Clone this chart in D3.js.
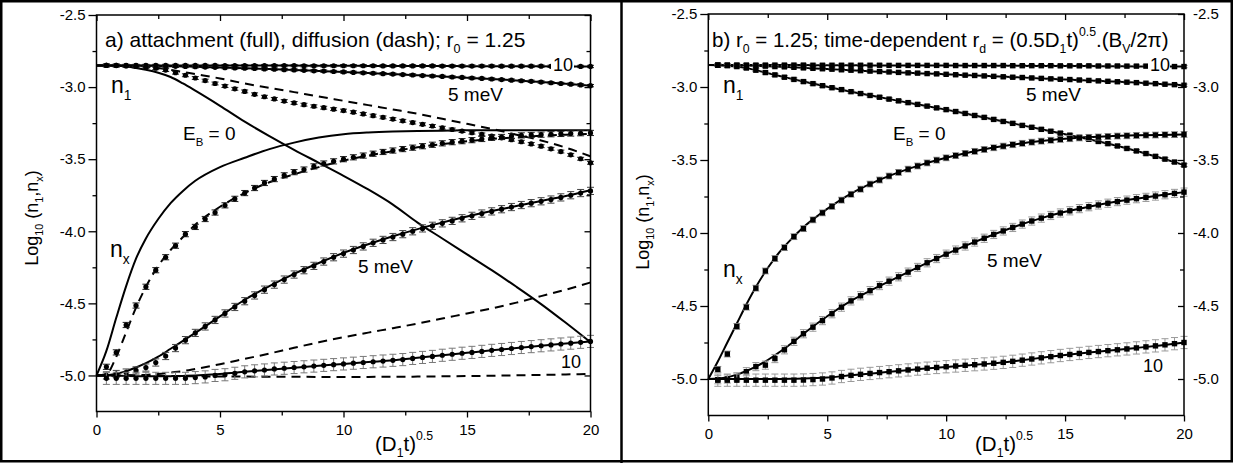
<!DOCTYPE html>
<html>
<head>
<meta charset="utf-8">
<title>n1, nx vs (D1t)^0.5</title>
<style>
  body { margin: 0; background: #fff; }
  svg text { font-family: Arial, "Liberation Sans", sans-serif; fill: #000; }
  .frame { fill: none; stroke: #000; stroke-width: 1.5px; }
  .axis path { display: none; }
  .axis line { stroke: #000; stroke-width: 1.3px; }
  .axis text { font-size: 15px; font-family: Arial, "Liberation Sans", sans-serif; }
  .full { fill: none; stroke: #000; stroke-width: 2px; }
  .dash { fill: none; stroke: #000; stroke-width: 2px; stroke-dasharray: 9,6; }
</style>
</head>
<body>
<svg width="1233" height="463"></svg>
<script src="https://d3js.org/d3.v7.min.js"></script>
<script>

// ---- data ----
var xTicks = [0, 5, 10, 15, 20];
var xMinor = [2.5, 7.5, 12.5, 17.5];
var yTicks = [-2.5, -3.0, -3.5, -4.0, -4.5, -5.0];
var yMinor = [-2.75, -3.25, -3.75, -4.25, -4.75];

// x of the theory curves
var lineX = [0,0.4,0.8,1.2,1.6,2,2.5,3,3.5,4,5,6,7,8,9,10,11,12,13,14,15,16,17,18,19,20];
// x of the simulation points
var ptX = [0.4,0.8,1.2,1.6,2.0,2.4,2.8,3.2,3.6,4.0,4.4,4.8,5.2,5.6,6.0,6.4,6.8,7.2,7.6,8.0,
           8.4,8.8,9.2,9.6,10.0,10.4,10.8,11.2,11.6,12.0,12.4,12.8,13.2,13.6,14.0,14.4,14.8,15.2,15.6,16.0,
           16.4,16.8,17.2,17.6,18.0,18.4,18.8,19.2,19.6,20.0];

// panel a: curves (full = attachment, d = diffusion)
var aL_n1_10 = [-2.85,-2.85,-2.85,-2.85,-2.85,-2.85,-2.85,-2.85,-2.85,-2.85,-2.85,-2.851,-2.851,-2.851,-2.852,-2.852,-2.853,-2.853,-2.854,-2.854,-2.855,-2.855,-2.856,-2.856,-2.857,-2.857];
var aL_n1_5 = [-2.85,-2.85,-2.85,-2.851,-2.851,-2.852,-2.853,-2.855,-2.857,-2.859,-2.864,-2.869,-2.875,-2.881,-2.888,-2.895,-2.902,-2.91,-2.918,-2.926,-2.935,-2.944,-2.954,-2.965,-2.977,-2.99];
var aL_n1_0 = [-2.85,-2.85,-2.852,-2.858,-2.868,-2.88,-2.9,-2.93,-2.975,-3.025,-3.13,-3.24,-3.34,-3.435,-3.525,-3.615,-3.71,-3.815,-3.94,-4.05,-4.16,-4.27,-4.385,-4.505,-4.635,-4.77];
var aL_n1_0d = [-2.85,-2.85,-2.85,-2.85,-2.852,-2.858,-2.868,-2.88,-2.895,-2.91,-2.94,-2.975,-3.005,-3.035,-3.065,-3.095,-3.125,-3.155,-3.185,-3.22,-3.255,-3.29,-3.33,-3.37,-3.42,-3.48];
var aL_nx0 = [-5.0,-4.83,-4.6,-4.38,-4.19,-4.05,-3.915,-3.805,-3.72,-3.65,-3.555,-3.49,-3.43,-3.385,-3.35,-3.327,-3.315,-3.308,-3.304,-3.302,-3.30,-3.30,-3.30,-3.30,-3.30,-3.30];
var aL_nx0d = [-5.0,-4.99,-4.87,-4.70,-4.53,-4.385,-4.24,-4.13,-4.04,-3.955,-3.83,-3.735,-3.66,-3.605,-3.555,-3.51,-3.475,-3.445,-3.418,-3.395,-3.376,-3.36,-3.348,-3.338,-3.33,-3.324];
var aL_nx5 = [-5.0,-4.998,-4.988,-4.97,-4.945,-4.915,-4.87,-4.815,-4.76,-4.705,-4.59,-4.475,-4.38,-4.295,-4.22,-4.15,-4.09,-4.035,-3.985,-3.94,-3.898,-3.86,-3.825,-3.79,-3.755,-3.715];
var aL_nx5d = [-5.0,-5.0,-5.0,-4.999,-4.998,-4.996,-4.99,-4.98,-4.97,-4.955,-4.922,-4.885,-4.848,-4.808,-4.77,-4.735,-4.703,-4.672,-4.64,-4.605,-4.57,-4.535,-4.495,-4.45,-4.405,-4.355];
var aL_nx10 = [-5.0,-5.0,-5.002,-5.004,-5.005,-5.006,-5.006,-5.005,-5.003,-5.0,-4.99,-4.975,-4.96,-4.946,-4.933,-4.92,-4.907,-4.895,-4.878,-4.86,-4.843,-4.826,-4.81,-4.794,-4.779,-4.764];
var aL_nx10d = [-5.0,-5.0,-5.0,-5.0,-5.001,-5.002,-5.003,-5.004,-5.005,-5.006,-5.007,-5.008,-5.009,-5.009,-5.01,-5.01,-5.01,-5.009,-5.008,-5.006,-5.004,-5.002,-4.999,-4.996,-4.993,-4.99];

// panel a: simulation points
var aP_n1_10 = [-2.85,-2.85,-2.85,-2.85,-2.85,-2.85,-2.85,-2.85,-2.85,-2.85,-2.85,-2.85,
  -2.851,-2.851,-2.851,-2.851,-2.851,-2.851,-2.851,-2.851,-2.852,-2.852,-2.852,-2.852,-2.852,-2.852,-2.852,-2.852,
  -2.853,-2.853,-2.853,-2.853,-2.853,-2.853,-2.854,-2.854,-2.854,-2.854,-2.854,-2.854,
  -2.855,-2.855,-2.855,-2.855,-2.855,-2.856,-2.856,-2.856,-2.857,-2.857];
var aP_n1_5 = [-2.85,-2.85,-2.851,-2.851,-2.852,-2.853,-2.854,-2.856,-2.857,-2.859,-2.861,-2.863,-2.865,-2.867,-2.869,-2.871,-2.874,-2.876,-2.879,-2.881,
  -2.884,-2.887,-2.889,-2.892,-2.895,-2.898,-2.901,-2.904,-2.907,-2.91,-2.913,-2.916,-2.92,-2.923,-2.926,-2.93,-2.933,-2.937,-2.94,-2.944,
  -2.948,-2.952,-2.956,-2.96,-2.965,-2.97,-2.975,-2.98,-2.985,-2.99];
var aP_n1_0 = [-2.85,-2.851,-2.853,-2.857,-2.862,-2.869,-2.882,-2.9,-2.918,-2.937,-2.955,-2.975,-2.993,-3.012,-3.03,-3.05,-3.067,-3.082,-3.097,-3.11,
  -3.122,-3.133,-3.143,-3.153,-3.163,-3.174,-3.186,-3.198,-3.21,-3.222,-3.234,-3.246,-3.258,-3.27,-3.282,-3.294,-3.305,-3.316,-3.328,-3.34,
  -3.352,-3.365,-3.379,-3.394,-3.41,-3.428,-3.447,-3.47,-3.497,-3.525];
var aP_nx0 = [-4.94,-4.84,-4.65,-4.515,-4.385,-4.27,-4.18,-4.10,-4.02,-3.97,-3.915,-3.87,-3.82,-3.775,-3.735,-3.70,-3.665,-3.638,-3.612,-3.59,
  -3.572,-3.55,-3.53,-3.515,-3.50,-3.487,-3.475,-3.462,-3.45,-3.44,-3.43,-3.42,-3.41,-3.40,-3.39,-3.382,-3.375,-3.368,-3.36,-3.352,
  -3.346,-3.34,-3.335,-3.332,-3.33,-3.327,-3.325,-3.322,-3.32,-3.318];
var aP_nx5 = [-5.0,-4.99,-4.98,-4.965,-4.945,-4.91,-4.865,-4.81,-4.755,-4.705,-4.66,-4.615,-4.57,-4.525,-4.485,-4.445,-4.405,-4.37,-4.335,-4.30,
  -4.27,-4.24,-4.21,-4.18,-4.155,-4.13,-4.105,-4.08,-4.06,-4.04,-4.02,-4.0,-3.98,-3.962,-3.945,-3.928,-3.91,-3.893,-3.877,-3.862,
  -3.847,-3.832,-3.818,-3.805,-3.792,-3.78,-3.765,-3.75,-3.735,-3.72];
var aP_nx10 = [-5.02,-5.02,-5.02,-5.02,-5.02,-5.02,-5.02,-5.02,-5.02,-5.015,-5.01,-5.0,-4.995,-4.985,-4.975,-4.968,-4.962,-4.955,-4.95,-4.945,
  -4.94,-4.935,-4.93,-4.925,-4.92,-4.915,-4.91,-4.905,-4.9,-4.895,-4.89,-4.882,-4.875,-4.868,-4.86,-4.853,-4.846,-4.84,-4.833,-4.826,
  -4.82,-4.813,-4.806,-4.8,-4.794,-4.788,-4.782,-4.776,-4.77,-4.764];
var aErr = [0.008, 0.008, 0.01, 0.018, 0.025, 0.042];

// panel b: curves
var bL_n1_10 = [-2.85,-2.85,-2.85,-2.85,-2.85,-2.85,-2.85,-2.85,-2.85,-2.85,-2.851,-2.851,-2.852,-2.852,-2.853,-2.853,-2.854,-2.854,-2.855,-2.856,-2.857,-2.857,-2.858,-2.859,-2.86,-2.86];
var bL_n1_5 = [-2.85,-2.85,-2.851,-2.852,-2.853,-2.855,-2.858,-2.861,-2.865,-2.869,-2.877,-2.885,-2.893,-2.90,-2.907,-2.913,-2.92,-2.927,-2.934,-2.941,-2.948,-2.955,-2.962,-2.97,-2.979,-2.988];
var bL_n1_0 = [-2.85,-2.851,-2.854,-2.86,-2.87,-2.885,-2.905,-2.925,-2.944,-2.963,-2.998,-3.032,-3.064,-3.095,-3.125,-3.155,-3.188,-3.222,-3.256,-3.29,-3.323,-3.358,-3.396,-3.438,-3.485,-3.535];
var bL_nx0 = [-5.0,-4.88,-4.75,-4.62,-4.49,-4.37,-4.24,-4.13,-4.04,-3.96,-3.835,-3.73,-3.65,-3.585,-3.53,-3.485,-3.447,-3.415,-3.39,-3.37,-3.355,-3.343,-3.336,-3.331,-3.328,-3.325];
var bL_nx5 = [-5.0,-4.997,-4.988,-4.97,-4.945,-4.915,-4.87,-4.815,-4.755,-4.69,-4.57,-4.465,-4.38,-4.3,-4.22,-4.145,-4.075,-4.01,-3.95,-3.898,-3.855,-3.82,-3.79,-3.765,-3.742,-3.72];
var bL_nx10 = [-5.0,-5.0,-5.0,-5.0,-5.0,-5.0,-5.0,-5.0,-4.999,-4.997,-4.99,-4.975,-4.96,-4.945,-4.93,-4.917,-4.905,-4.893,-4.875,-4.855,-4.835,-4.818,-4.803,-4.787,-4.77,-4.75];

// panel b: simulation points
var bP_n1_10 = [-2.85,-2.85,-2.85,-2.85,-2.85,-2.85,-2.85,-2.85,-2.85,-2.85,
  -2.851,-2.851,-2.851,-2.851,-2.851,-2.851,-2.851,-2.851,-2.852,-2.852,-2.852,-2.852,-2.852,-2.852,-2.852,
  -2.853,-2.853,-2.853,-2.853,-2.853,-2.853,-2.854,-2.854,-2.854,-2.854,-2.854,
  -2.855,-2.855,-2.855,-2.855,-2.856,-2.856,-2.856,-2.857,-2.857,-2.857,-2.858,-2.858,-2.86,-2.86];
var bP_n1_5 = [-2.85,-2.851,-2.852,-2.853,-2.855,-2.857,-2.86,-2.862,-2.865,-2.869,-2.872,-2.875,-2.878,-2.882,-2.885,-2.888,-2.891,-2.894,-2.897,-2.9,
  -2.903,-2.905,-2.908,-2.91,-2.913,-2.916,-2.919,-2.921,-2.924,-2.927,-2.93,-2.933,-2.935,-2.938,-2.941,-2.944,-2.947,-2.949,-2.952,-2.955,
  -2.958,-2.961,-2.964,-2.967,-2.97,-2.974,-2.977,-2.981,-2.984,-2.988];
var bP_n1_0 = [-2.851,-2.854,-2.86,-2.87,-2.885,-2.901,-2.917,-2.933,-2.948,-2.963,-2.977,-2.991,-3.005,-3.018,-3.032,-3.045,-3.058,-3.07,-3.083,-3.095,
  -3.107,-3.119,-3.131,-3.143,-3.155,-3.168,-3.181,-3.195,-3.208,-3.222,-3.236,-3.249,-3.263,-3.276,-3.29,-3.303,-3.316,-3.33,-3.344,-3.358,
  -3.373,-3.388,-3.404,-3.421,-3.438,-3.456,-3.475,-3.494,-3.514,-3.535];
var bP_nx0 = [-4.934,-4.829,-4.64,-4.508,-4.378,-4.26,-4.175,-4.10,-4.025,-3.97,-3.91,-3.862,-3.818,-3.775,-3.735,-3.70,-3.665,-3.637,-3.61,-3.585,
  -3.563,-3.541,-3.52,-3.501,-3.485,-3.47,-3.455,-3.441,-3.428,-3.416,-3.405,-3.395,-3.386,-3.378,-3.371,-3.365,-3.359,-3.354,-3.349,-3.345,
  -3.342,-3.339,-3.336,-3.334,-3.332,-3.33,-3.329,-3.327,-3.326,-3.325];
var bP_nx5 = [-5.005,-5.0,-4.985,-4.95,-4.915,-4.905,-4.86,-4.80,-4.742,-4.69,-4.645,-4.6,-4.553,-4.508,-4.465,-4.43,-4.395,-4.36,-4.33,-4.30,
  -4.268,-4.236,-4.204,-4.175,-4.145,-4.117,-4.089,-4.062,-4.036,-4.01,-3.986,-3.962,-3.939,-3.918,-3.898,-3.88,-3.863,-3.848,-3.833,-3.82,
  -3.808,-3.796,-3.785,-3.775,-3.765,-3.756,-3.747,-3.738,-3.729,-3.72];
var bP_nx10 = [-5.008,-5.008,-5.008,-5.008,-5.008,-5.008,-5.008,-5.008,-5.008,-5.007,-5.004,-5.0,-4.993,-4.983,-4.975,-4.968,-4.962,-4.956,-4.95,-4.944,
  -4.938,-4.932,-4.926,-4.921,-4.916,-4.911,-4.906,-4.902,-4.897,-4.892,-4.886,-4.879,-4.871,-4.863,-4.855,-4.847,-4.839,-4.832,-4.825,-4.818,
  -4.812,-4.806,-4.8,-4.794,-4.787,-4.78,-4.773,-4.766,-4.758,-4.75];
var bErr = [0.008, 0.008, 0.01, 0.02, 0.028, 0.042];

// ---- drawing ----
var svg = d3.select("svg");
svg.append("rect").attr("width", 1233).attr("height", 463).attr("fill", "#fff");

function rich(g, x, y, parts, size, anchor) {
    var t = g.append("text").attr("x", x).attr("y", y)
        .attr("font-size", size).attr("text-anchor", anchor || "start");
    var off = 0;
    parts.forEach(function(p) {
        var k = p[1];
        var target = k == "sub" ? size * 0.3 : (k == "sup" ? -size * 0.55 : 0);
        t.append("tspan").attr("dy", target - off)
            .attr("font-size", k ? size * 0.6 : size).text(p[0]);
        off = target;
    });
    return t;
}

function panel(o) {
    var x = d3.scaleLinear().domain([0, 20]).range([o.l, o.r]);
    var y = d3.scaleLinear().domain([-5.25, -2.5]).range([o.b, o.t]);
    var g = svg.append("g");

    var line = d3.line()
        .x(function(d) { return x(d[0]); })
        .y(function(d) { return y(d[1]); })
        .curve(d3.curveMonotoneX);

    o.dash.forEach(function(v) {
        g.append("path").attr("class", "dash").attr("d", line(d3.zip(lineX, v)));
    });
    o.full.forEach(function(v) {
        g.append("path").attr("class", "full").attr("d", line(d3.zip(lineX, v)));
    });

    o.pts.forEach(function(v, i) {
        var h = y(-5) - y(-5 + o.err[i]);
        var col = o.errCol[i];
        var s = g.append("g").selectAll("g")
            .data(d3.zip(ptX, v))
            .join("g")
            .attr("transform", function(d) { return "translate(" + x(d[0]) + "," + y(d[1]) + ")"; });
        s.append("path")
            .attr("d", "M0," + (-h) + "V" + h + "M-3.5," + (-h) + "h7M-3.5," + h + "h7")
            .attr("stroke", col).attr("stroke-width", 1).attr("fill", "none");
        if (o.marker == "circle") {
            s.append("circle").attr("r", 2.6).attr("fill", "#000");
        } else {
            s.append("rect").attr("x", -2.7).attr("y", -2.7).attr("width", 5.4).attr("height", 5.4).attr("fill", "#000");
        }
    });

    // frame and ticks
    g.append("rect").attr("class", "frame")
        .attr("x", o.l).attr("y", o.t).attr("width", o.r - o.l).attr("height", o.b - o.t);

    g.append("g").attr("class", "axis").attr("transform", "translate(0," + o.b + ")")
        .call(d3.axisBottom(x).tickValues(xTicks).tickSize(6).tickPadding(7).tickFormat(d3.format("d")));
    g.append("g").attr("class", "axis").attr("transform", "translate(0," + o.b + ")")
        .call(d3.axisBottom(x).tickValues(xMinor).tickSize(4).tickFormat(""));
    g.append("g").attr("class", "axis").attr("transform", "translate(0," + o.t + ")")
        .call(d3.axisTop(x).tickValues(xTicks).tickSize(-6).tickFormat(""));
    g.append("g").attr("class", "axis").attr("transform", "translate(0," + o.t + ")")
        .call(d3.axisTop(x).tickValues(xMinor).tickSize(-4).tickFormat(""));

    var fmt = function(d) { return d.toFixed(1); };
    g.append("g").attr("class", "axis").attr("transform", "translate(" + o.l + ",0)")
        .call(d3.axisLeft(y).tickValues(yTicks).tickSize(8).tickPadding(3).tickFormat(fmt));
    g.append("g").attr("class", "axis").attr("transform", "translate(" + o.l + ",0)")
        .call(d3.axisLeft(y).tickValues(yMinor).tickSize(4).tickFormat(""));
    g.append("g").attr("class", "axis").attr("transform", "translate(" + o.r + ",0)")
        .call(d3.axisRight(y).tickValues(yTicks).tickSize(-6).tickPadding(9)
            .tickFormat(o.rightLabels ? fmt : ""));
    g.append("g").attr("class", "axis").attr("transform", "translate(" + o.r + ",0)")
        .call(d3.axisRight(y).tickValues(yMinor).tickSize(-4).tickFormat(""));

    // annotations
    o.labels.forEach(function(L) {
        if (L.bg) {
            g.append("rect").attr("x", L.x - 2).attr("y", L.y - L.size * 0.78)
                .attr("width", L.bg).attr("height", L.size * 0.85).attr("fill", "#fff");
        }
        rich(g, L.x, L.y, L.parts, L.size);
    });

    rich(g, o.xtx, 451, [["(D"], ["1", "sub"], ["t)"], ["0.5", "sup"]], 20.5);

    var yl = g.append("g").attr("transform", "translate(" + o.ytx + "," + o.yty + ") rotate(-90)");
    rich(yl, 0, 0, [["Log"], ["10", "sub"], [" (n"], ["1", "sub"], [","], ["n", ""], ["x", "sub"], [")"]], 18, "middle");
}

panel({
    l: 96.5, r: 590.5, t: 15, b: 411.5,
    full: [aL_n1_10, aL_n1_5, aL_n1_0, aL_nx0, aL_nx5, aL_nx10],
    dash: [aL_n1_0d, aL_nx0d, aL_nx5d, aL_nx10d],
    pts: [aP_n1_10, aP_n1_5, aP_n1_0, aP_nx0, aP_nx5, aP_nx10],
    err: aErr,
    errCol: ["#222", "#222", "#222", "#222", "#444", "#777"],
    marker: "circle",
    rightLabels: false,
    xtx: 375, ytx: 38, yty: 218,
    labels: [
        {x: 105, y: 47, size: 21, parts: [["a) attachment (full), diffusion (dash); r"], ["0", "sub"], [" = 1.25"]]},
        {x: 111, y: 93, size: 23, parts: [["n"], ["1", "sub"]]},
        {x: 183, y: 140, size: 19, parts: [["E"], ["B", "sub"], [" = 0"]]},
        {x: 110, y: 257, size: 23, parts: [["n"], ["x", "sub"]]},
        {x: 448, y: 101, size: 19, parts: [["5 meV"]]},
        {x: 553, y: 71, size: 18, bg: 23, parts: [["10"]]},
        {x: 358, y: 273, size: 19, parts: [["5 meV"]]},
        {x: 561, y: 368, size: 18, parts: [["10"]]}
    ]
});

panel({
    l: 708.3, r: 1184, t: 14, b: 415.5,
    full: [bL_n1_10, bL_n1_5, bL_n1_0, bL_nx0, bL_nx5, bL_nx10],
    dash: [],
    pts: [bP_n1_10, bP_n1_5, bP_n1_0, bP_nx0, bP_nx5, bP_nx10],
    err: bErr,
    errCol: ["#777", "#777", "#777", "#999", "#999", "#999"],
    marker: "square",
    rightLabels: true,
    xtx: 975, ytx: 649, yty: 222,
    labels: [
        {x: 712, y: 47, size: 20.5, parts: [["b) r"], ["0", "sub"], [" = 1.25; time-dependent r"], ["d", "sub"],
            [" = (0.5D"], ["1", "sub"], ["t)"], ["0.5", "sup"], [".(B"], ["V", "sub"], ["/2\u03c0)"]]},
        {x: 723, y: 93, size: 23, parts: [["n"], ["1", "sub"]]},
        {x: 893, y: 140, size: 19, parts: [["E"], ["B", "sub"], [" = 0"]]},
        {x: 723, y: 277, size: 23, parts: [["n"], ["x", "sub"]]},
        {x: 1026, y: 101, size: 19, parts: [["5 meV"]]},
        {x: 1150, y: 71, size: 18, bg: 22, parts: [["10"]]},
        {x: 987, y: 267, size: 19, parts: [["5 meV"]]},
        {x: 1143, y: 372, size: 18, parts: [["10"]]}
    ]
});

// outer borders
svg.append("rect").attr("x", 1.25).attr("y", 1.25).attr("width", 1230.5).attr("height", 460)
    .attr("fill", "none").attr("stroke", "#000").attr("stroke-width", 2.5);
svg.append("line").attr("x1", 621.5).attr("x2", 621.5).attr("y1", 0).attr("y2", 463)
    .attr("stroke", "#000").attr("stroke-width", 2.5);

</script>
</body>
</html>
